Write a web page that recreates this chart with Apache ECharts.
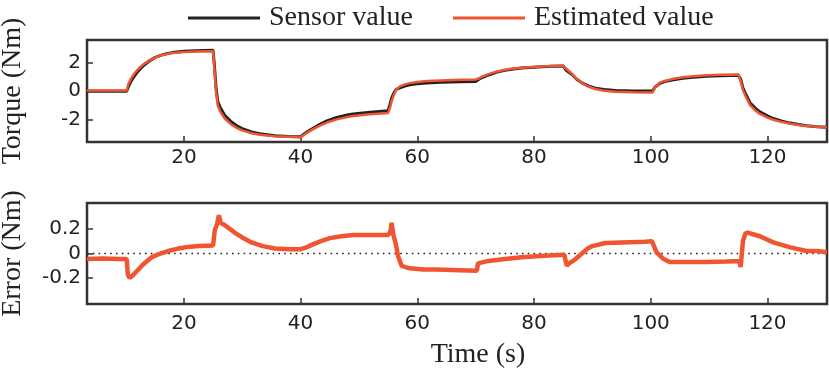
<!DOCTYPE html>
<html>
<head>
<meta charset="utf-8">
<script src="https://cdn.jsdelivr.net/npm/echarts@6/dist/echarts.min.js"></script>
<style>
  html, body { margin: 0; padding: 0; background: #fff; }
  #chart { width: 829px; height: 370px; }
</style>
</head>
<body>
<div id="chart"></div>
<script>
// torque: time (s), sensor value and estimated value (Nm)
var torqueTime = [3.4, 10.2, 10.5, 11, 11.5, 12, 12.5, 13, 14, 15, 16, 17, 18, 20, 22, 25,
  25.2, 25.5, 25.8, 26.2, 27, 28, 29, 30, 31.6, 33, 35.6, 38, 40,
  40.5, 41, 42, 43.3, 44.5, 46.2, 48, 49, 51.9, 55,
  55.3, 55.6, 56, 56.4, 57, 58, 58.7, 60, 61.6, 64, 67.3, 70,
  70.5, 71, 72.2, 73.5, 75, 76.5, 77.9, 80.7, 83, 85,
  85.5, 86.5, 87.3, 88.2, 89.2, 90.5, 92, 94, 97, 100.3,
  100.8, 101.6, 102.5, 103.9, 105.5, 106.8, 109.6, 112, 115,
  115.4, 115.8, 116.2, 117, 118, 118.7, 120, 121, 122.5, 123.9, 125.3, 126.7, 128.5, 130.2];
var sensorTorque = [-0.01, -0.01, 0.3, 0.72, 1.03, 1.31, 1.54, 1.74, 2.07, 2.33, 2.49, 2.6, 2.68, 2.77, 2.81, 2.84,
  1.95, 0.3, -0.72, -1.14, -1.69, -2.1, -2.41, -2.62, -2.86, -2.99, -3.12, -3.17, -3.19,
  -3.03, -2.88, -2.63, -2.32, -2.08, -1.84, -1.67, -1.6, -1.48, -1.38,
  -0.96, -0.5, -0.12, 0.12, 0.22, 0.36, 0.43, 0.5, 0.56, 0.61, 0.64, 0.66,
  0.8, 0.92, 1.12, 1.3, 1.44, 1.53, 1.6, 1.68, 1.72, 1.75,
  1.45, 1.15, 0.82, 0.57, 0.37, 0.2, 0.11, 0.04, 0.0, 0.0,
  0.3, 0.54, 0.67, 0.79, 0.89, 0.95, 1.03, 1.07, 1.1,
  0.84, 0.2, -0.15, -0.82, -1.23, -1.46, -1.74, -1.92, -2.1, -2.24, -2.34, -2.43, -2.49, -2.53];
var estTorque = [0.03, 0.03, 0.5, 0.9, 1.2, 1.45, 1.66, 1.84, 2.12, 2.33, 2.48, 2.58, 2.65, 2.72, 2.75, 2.77,
  1.7, 0.0, -1.0, -1.42, -1.92, -2.3, -2.57, -2.75, -2.95, -3.06, -3.16, -3.2, -3.22,
  -3.08, -2.94, -2.7, -2.42, -2.2, -1.98, -1.82, -1.75, -1.63, -1.53,
  -1.2, -0.7, -0.25, 0.1, 0.32, 0.48, 0.55, 0.63, 0.69, 0.74, 0.78, 0.8,
  0.87, 0.98, 1.18, 1.35, 1.48, 1.57, 1.63, 1.7, 1.74, 1.76,
  1.55, 1.2, 0.85, 0.56, 0.33, 0.14, 0.02, -0.05, -0.09, -0.1,
  0.3, 0.58, 0.72, 0.86, 0.96, 1.02, 1.1, 1.14, 1.16,
  0.7, 0.05, -0.32, -0.98, -1.38, -1.6, -1.86, -2.01, -2.17, -2.29, -2.38, -2.45, -2.5, -2.54];

// error (Nm)
var errTime = [3.4, 6, 9, 10.2, 10.4, 10.7, 11.2, 12, 13, 14.5, 16, 17.3, 19, 20.2, 22.5, 25,
  25.3, 25.7, 26, 26.3, 27, 28.7, 30, 31.6, 33.5, 35.6, 38, 40,
  41, 42.2, 43.5, 45, 47, 49, 52, 55, 55.4, 55.6, 55.9, 56.3, 56.7, 57.3, 58.7, 61, 63.3, 67.3, 70.2,
  70.4, 72.2, 75, 77.9, 81, 85.2, 85.6, 86, 87, 88.2, 89.2, 90, 92.2, 95, 99, 100.2,
  101, 102.2, 103.3, 106, 109.6, 113, 115.2, 115.4, 115.8, 116.2, 116.6, 118.7, 121, 123.9, 126.7, 128.5, 130.2];
var errValue = [-0.045, -0.04, -0.045, -0.045, -0.17, -0.2, -0.18, -0.14, -0.09, -0.03, 0.0, 0.02, 0.04, 0.05, 0.06, 0.065,
  0.19, 0.24, 0.31, 0.25, 0.23, 0.17, 0.13, 0.09, 0.06, 0.04, 0.035, 0.035,
  0.05, 0.076, 0.1, 0.125, 0.14, 0.15, 0.15, 0.15, 0.18, 0.25, 0.15, 0.08, -0.02, -0.1, -0.12, -0.13, -0.13, -0.135, -0.14,
  -0.08, -0.06, -0.045, -0.03, -0.02, -0.01, -0.1, -0.08, -0.05, 0.0, 0.04, 0.06, 0.085, 0.09, 0.095, 0.1,
  0.01, -0.045, -0.07, -0.07, -0.07, -0.065, -0.06, -0.11, 0.1, 0.16, 0.17, 0.14, 0.09, 0.05, 0.02, 0.02, 0.01];

var zeroTime = [3.4, 130.2];
var zeroValue = [0, 0];

var xTicks = [20, 40, 60, 80, 100, 120];
var torqueTicks = [-2, 0, 2];
var errTicks = [-0.2, 0, 0.2];

var xMin = 3.4, xMax = 130.2;

function pairs(t, v) {
  return t.map(function (x, i) { return [x, v[i]]; });
}

var frame = '#333';
var ink = '#222';
var orange = '#f05532';
var serif = 'Liberation Serif';
var sans = 'DejaVu Sans';

function xAxisOf(idx, name) {
  return {
    type: 'value', gridIndex: idx, min: xMin, max: xMax,
    axisLine: { show: false, onZero: false },
    splitLine: { show: false },
    axisTick: { inside: true, length: 6, customValues: xTicks, lineStyle: { color: frame, width: 1.5 } },
    axisLabel: { customValues: xTicks, margin: idx === 0 ? 6 : 10, color: ink, fontFamily: sans, fontSize: 20 },
    name: name,
    nameLocation: 'middle',
    nameGap: 37,
    nameTextStyle: { fontFamily: serif, fontSize: 28, color: ink, padding: [0, 0, 0, 42] }
  };
}

function yAxisOf(idx, lo, hi, ticks, name) {
  return {
    type: 'value', gridIndex: idx, min: lo, max: hi,
    axisLine: { show: false, onZero: false },
    splitLine: { show: false },
    axisTick: { inside: true, length: 6, customValues: ticks, lineStyle: { color: frame, width: 1.5 } },
    axisLabel: { customValues: ticks, margin: 6, color: ink, fontFamily: sans, fontSize: 20 },
    name: name,
    nameLocation: 'middle',
    nameGap: 60,
    nameTextStyle: { fontFamily: serif, fontSize: 28, color: ink }
  };
}

var chart = echarts.init(document.getElementById('chart'));
chart.setOption({
  animation: false,
  legend: [
    { left: 188, top: 4, padding: 0, data: ['Sensor value'], icon: 'rect', itemWidth: 72, itemHeight: 3,
      textStyle: { fontFamily: serif, fontSize: 28, color: ink, padding: [0, 0, 0, 4] } },
    { left: 453, top: 4, padding: 0, data: ['Estimated value'], icon: 'rect', itemWidth: 72, itemHeight: 3,
      textStyle: { fontFamily: serif, fontSize: 28, color: ink, padding: [0, 0, 0, 4] } }
  ],
  grid: [
    { left: 87, top: 40, width: 740, height: 102, show: true, borderColor: frame, borderWidth: 2.5,
      containLabel: false, outerBoundsMode: 'none' },
    { left: 87, top: 203, width: 740, height: 101, show: true, borderColor: frame, borderWidth: 2.5,
      containLabel: false, outerBoundsMode: 'none' }
  ],
  xAxis: [xAxisOf(0, ''), xAxisOf(1, 'Time (s)')],
  yAxis: [
    yAxisOf(0, -3.56, 3.56, torqueTicks, 'Torque (Nm)'),
    yAxisOf(1, -0.41, 0.41, errTicks, 'Error (Nm)')
  ],
  series: [
    {
      name: 'Sensor value', type: 'line', xAxisIndex: 0, yAxisIndex: 0,
      data: pairs(torqueTime, sensorTorque), symbol: 'none', z: 2,
      lineStyle: { color: ink, width: 3 }, itemStyle: { color: ink }
    },
    {
      name: 'Estimated value', type: 'line', xAxisIndex: 0, yAxisIndex: 0,
      data: pairs(torqueTime, estTorque), symbol: 'none', z: 3,
      lineStyle: { color: orange, width: 2.5 }, itemStyle: { color: orange }
    },
    {
      name: 'zero', type: 'line', xAxisIndex: 1, yAxisIndex: 1,
      data: pairs(zeroTime, zeroValue), symbol: 'none', z: 1,
      lineStyle: { color: ink, width: 1.6, type: [1.6, 4.2] }
    },
    {
      name: 'Error', type: 'line', xAxisIndex: 1, yAxisIndex: 1,
      data: pairs(errTime, errValue), symbol: 'none', z: 3,
      lineStyle: { color: orange, width: 4.5 }, itemStyle: { color: orange }
    }
  ]
});
</script>
</body>
</html>
